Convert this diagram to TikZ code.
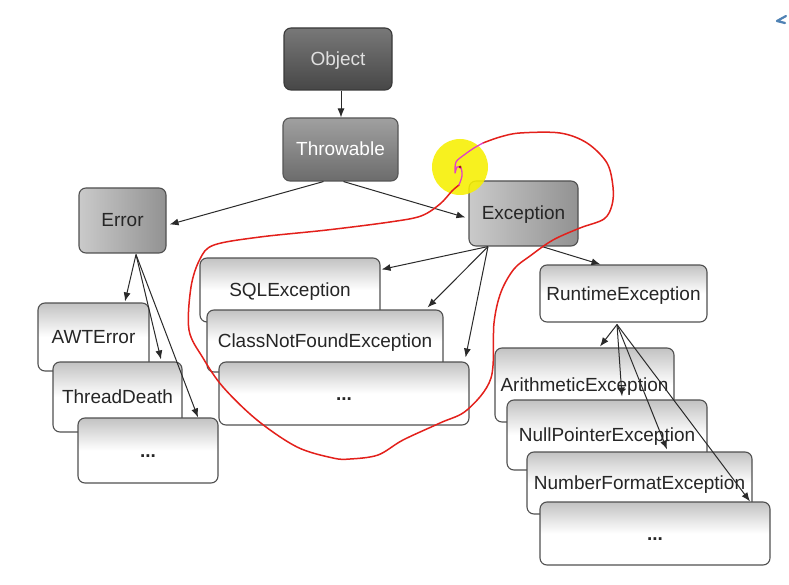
\documentclass[tikz,border=0pt]{standalone}
\usepackage{fontspec}
\setmainfont{Liberation Sans}
\usetikzlibrary{arrows.meta,calc}

\definecolor{boxline}{HTML}{505050}
\definecolor{leaftop}{HTML}{C2C2C2}
\definecolor{midleft}{HTML}{CACACA}
\definecolor{midright}{HTML}{929292}
\definecolor{objtop}{HTML}{787878}
\definecolor{objbot}{HTML}{474747}
\definecolor{thrtop}{HTML}{A0A0A0}
\definecolor{thrbot}{HTML}{6C6C6C}
\definecolor{edgecol}{HTML}{2A2A2A}
\definecolor{penred}{HTML}{E3201B}
\definecolor{penpink}{HTML}{E040C8}
\definecolor{marker}{HTML}{F7F000}
\definecolor{uiblue}{HTML}{4F82B4}

\newcommand{\lab}{\fontsize{19}{21}\selectfont}

\tikzset{
  box/.style={draw=boxline, line width=1.1pt, rounded corners=7pt,
    inner sep=0pt, font=\lab, text=black!85, text height=13pt, text depth=0pt},
  leaf/.style={box, top color=leaftop, bottom color=white, middle color=white},
  midbox/.style={box, left color=midleft, right color=midright},
  objbox/.style={box, draw=objbot!80!black, top color=objtop, bottom color=objbot, text=white!88!black},
  thrbox/.style={box, draw=thrbot!80!black, top color=thrtop, bottom color=thrbot, text=white},
  arr/.style={draw=edgecol, line width=1pt, -{Latex[length=9pt,width=7pt]}},
  pen/.style={draw=penred, line width=1.5pt, line cap=round, line join=round},
}

\begin{document}
\begin{tikzpicture}[x=1pt,y=-1pt]
  \useasboundingbox[fill=white] (0,0) rectangle (789,585);

  % root of the hierarchy
  \node[objbox, minimum width=108pt, minimum height=62pt] (obj) at (338,59) {Object};
  \node[thrbox, minimum width=115pt, minimum height=63pt] (thr) at (340.5,149.5) {Throwable};
  \node[midbox, minimum width=87pt, minimum height=65pt] (err) at (122.5,220.5) {Error};
  \node[midbox, minimum width=109pt, minimum height=65pt] (exc) at (523.5,213.5) {Exception};

  % checked exceptions
  \node[leaf, minimum width=180pt, minimum height=64pt] (sql) at (290,290) {SQLException};
  \node[leaf, minimum width=236pt, minimum height=62pt] (cnf) at (325,341) {ClassNotFoundException};
  \node[leaf, minimum width=250pt, minimum height=63pt] (exd) at (344,393.5) {\textbf{...}};

  % errors
  \node[leaf, minimum width=111pt, minimum height=68pt] (awt) at (93.5,337) {AWTError};
  \node[leaf, minimum width=129pt, minimum height=70pt] (td) at (117.5,397) {ThreadDeath};
  \node[leaf, minimum width=140pt, minimum height=65pt] (errd) at (148,450.5) {\textbf{...}};

  % unchecked exceptions
  \node[leaf, minimum width=167pt, minimum height=57pt] (rt) at (623.5,293.5) {RuntimeException};
  \node[leaf, minimum width=179pt, minimum height=74pt] (ari) at (584.5,385) {ArithmeticException};
  \node[leaf, minimum width=200pt, minimum height=70pt] (np) at (607,435) {NullPointerException};
  \node[leaf, minimum width=225pt, minimum height=62pt] (nf) at (639.5,483) {NumberFormatException};
  \node[leaf, minimum width=230pt, minimum height=63pt] (rtd) at (655,533.5) {\textbf{...}};

  % inheritance arrows
  \draw[arr] ($(obj.south)+(3,0)$) -- ($(thr.north)+(0.5,0)$);
  \draw[arr] ($(thr.south)+(-17,0)$) -- ($(err.east)+(3,4)$);
  \draw[arr] ($(thr.south)+(3,0)$) -- ($(exc.west)+(-3,4)$);

  \draw[arr] ($(err.south)+(13.5,1)$) -- ($(awt.north)+(31.5,-1)$);
  \draw[arr] ($(err.south)+(13.5,1)$) -- ($(td.north)+(43.5,-2)$);
  \draw[arr] ($(err.south)+(13.5,1)$) -- (errd.north -| 198,0);

  \draw[arr] ($(exc.south)+(-35.5,0)$) -- ($(sql.north east)+(1,12)$);
  \draw[arr] ($(exc.south)+(-35.5,0)$) -- ($(cnf.north east)+(-16,-2)$);
  \draw[arr] ($(exc.south)+(-35.5,0)$) -- ($(exd.north east)+(-4,-4)$);
  \draw[arr] ($(exc.south)+(18.5,0)$) -- ($(rt.north)+(-23,0)$);

  \draw[arr] ($(rt.south)+(-6.5,2)$) -- ($(ari.north)+(15.5,-1)$);
  \draw[arr] ($(rt.south)+(-6.5,2)$) -- ($(np.north)+(15,-3)$);
  \draw[arr] ($(rt.south)+(-6.5,2)$) -- ($(nf.north)+(27.5,-2)$);
  \draw[arr] ($(rt.south)+(-6.5,2)$) -- ($(rtd.north)+(95,0)$);

  % highlighter spot and pen annotation
  \fill[marker, opacity=0.88] (460,167) circle (28);
  \draw[pen] plot[smooth, tension=0.55] coordinates {
    (483,143) (500,137) (520,133) (560,133) (587,143) (607,163) (613,187)
    (612,205) (604,219) (580,228) (553,240) (530,256) (514,269) (501,292)
    (494,323) (491,378) (467,410) (440,423) (403,440) (378,455) (350,459)
    (333,458) (297,447) (257,420) (223,387) (203,358) (189,330) (191,287)
    (200,259) (214,245) (260,237) (327,230) (390,222) (421,216) (440,204)
    (452,191) (459,185)};
  \draw[penpink, line width=1.3pt, line cap=round, line join=round]
    plot[smooth, tension=0.5] coordinates {
    (459,185) (462,176) (461,168) (457,167) (455,173) (456,162) (464,155)
    (474,148) (483,143)};
  \fill[penred!70!black] (460,167) circle (1.5);

  % small screen widget in the corner
  \draw[uiblue, line width=2.2pt, line cap=round, line join=round]
    (786,16) -- (777,21) -- (785,23);
\end{tikzpicture}
\end{document}
